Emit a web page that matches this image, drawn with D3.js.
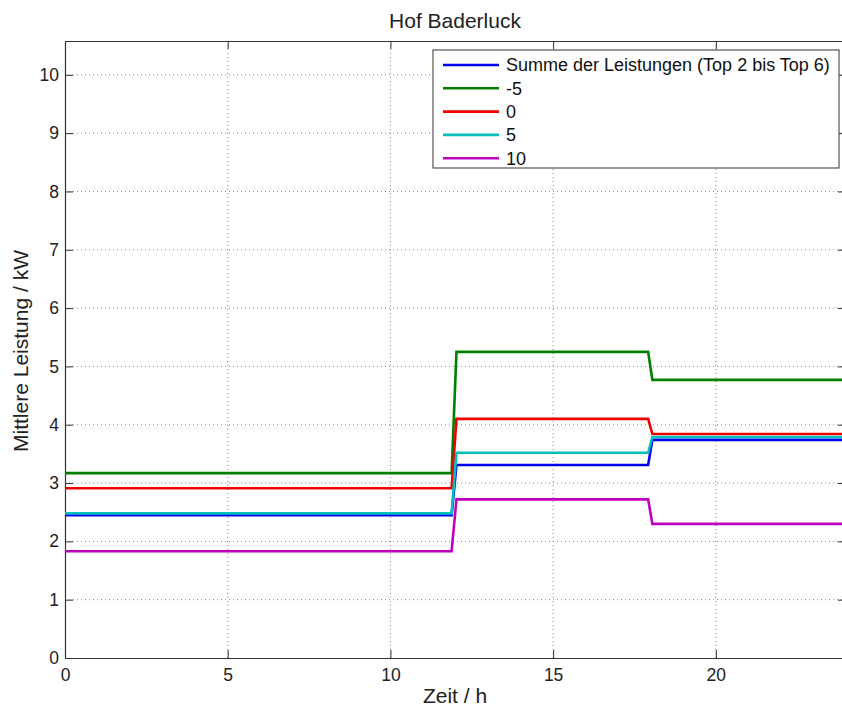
<!DOCTYPE html>
<html><head><meta charset="utf-8">
<script src="https://cdn.jsdelivr.net/npm/d3@7"></script>
<style>body{margin:0;background:#fff;} text{font-family:"Liberation Sans",Arial,sans-serif;}</style>
</head><body><svg id="c" width="842" height="707"></svg>
<script>
const title = "Hof Baderluck";
const xLabel = "Zeit / h";
const yLabel = "Mittlere Leistung / kW";
const xTicks = [0,5,10,15,20];
const yTicks = [0,1,2,3,4,5,6,7,8,9,10];
const seriesNames = ["Summe der Leistungen (Top 2 bis Top 6)","-5","0","5","10"];
const seriesColors = ["#0000ee","#007f00","#ee0000","#00bfbf","#bf00bf"];
// time points (h)
const times = [0, 11.88, 12.03, 17.92, 18.05, 24];
const sumValues   = [2.45, 2.45, 3.31, 3.31, 3.74, 3.74];
const minus5Values= [3.17, 3.17, 5.25, 5.25, 4.77, 4.77];
const zeroValues  = [2.91, 2.91, 4.10, 4.10, 3.84, 3.84];
const plus5Values = [2.48, 2.48, 3.52, 3.52, 3.79, 3.79];
const plus10Values= [1.83, 1.83, 2.72, 2.72, 2.30, 2.30];
const allValues = [sumValues, minus5Values, zeroValues, plus5Values, plus10Values];

const svg = d3.select("#c");
const L=65, R=846, T=41, B=658;
const x = d3.scaleLinear().domain([0,24]).range([L,R]);
const y = d3.scaleLinear().domain([0,10.58]).range([B,T]);

// grid
const g = svg.append("g");
g.selectAll(".gx").data(xTicks.slice(1)).enter().append("line")
 .attr("x1",d=>x(d)).attr("x2",d=>x(d)).attr("y1",T).attr("y2",B)
 .attr("stroke","#8a8a8a").attr("stroke-width",1).attr("stroke-dasharray","1,3");
g.selectAll(".gy").data(yTicks.slice(1)).enter().append("line")
 .attr("x1",L).attr("x2",R).attr("y1",d=>y(d)).attr("y2",d=>y(d))
 .attr("stroke","#8a8a8a").attr("stroke-width",1).attr("stroke-dasharray","1,3");

// axes
const xa = svg.append("g").attr("transform",`translate(0,${B})`)
 .call(d3.axisBottom(x).tickValues(xTicks).tickSizeInner(-8).tickSizeOuter(0).tickPadding(11));
const xt = svg.append("g").attr("transform",`translate(0,${T})`)
 .call(d3.axisTop(x).tickValues(xTicks).tickSizeInner(-8).tickSizeOuter(0).tickFormat(""));
const ya = svg.append("g").attr("transform",`translate(${L},0)`)
 .call(d3.axisLeft(y).tickValues(yTicks).tickSizeInner(-8).tickSizeOuter(0).tickPadding(6));
const yr = svg.append("g").attr("transform",`translate(${R},0)`)
 .call(d3.axisRight(y).tickValues(yTicks).tickSizeInner(-8).tickSizeOuter(0).tickFormat(""));
[xa,xt,ya,yr].forEach(a=>{a.select(".domain").attr("stroke","#333").attr("stroke-width",1.2);
 a.selectAll(".tick line").attr("stroke","#333");
 a.selectAll("text").attr("font-size",17.5).attr("fill","#222").attr("font-family","Liberation Sans, Arial, sans-serif");});
xa.selectAll("text").attr("dy","0.71em");

// lines
const line = d3.line().x((d,i)=>x(times[i])).y(d=>y(d));
svg.append("g").selectAll("path").data(allValues).enter().append("path")
 .attr("d",d=>line(d)).attr("fill","none").attr("stroke",(d,i)=>seriesColors[i])
 .attr("stroke-width",2.6).attr("stroke-linejoin","miter");

// title and labels
svg.append("text").attr("x",455).attr("y",27.5).attr("text-anchor","middle").attr("font-size",21).attr("fill","#222").text(title);
svg.append("text").attr("x",455).attr("y",703).attr("text-anchor","middle").attr("font-size",21).attr("fill","#222").text(xLabel);
svg.append("text").attr("transform","translate(28,351) rotate(-90)").attr("text-anchor","middle").attr("font-size",21).attr("fill","#222").text(yLabel);

// legend
const lg = svg.append("g");
lg.append("rect").attr("x",433).attr("y",50).attr("width",406).attr("height",118).attr("fill","#fff").attr("stroke","#333").attr("stroke-width",1);
seriesNames.forEach((n,i)=>{
  const yy = 65 + i*23.3;
  lg.append("line").attr("x1",443).attr("x2",499).attr("y1",yy).attr("y2",yy).attr("stroke",seriesColors[i]).attr("stroke-width",2.6);
  lg.append("text").attr("x",506).attr("y",yy).attr("dy","0.35em").attr("font-size",18).attr("fill","#111").text(n);
});
</script></body></html>
